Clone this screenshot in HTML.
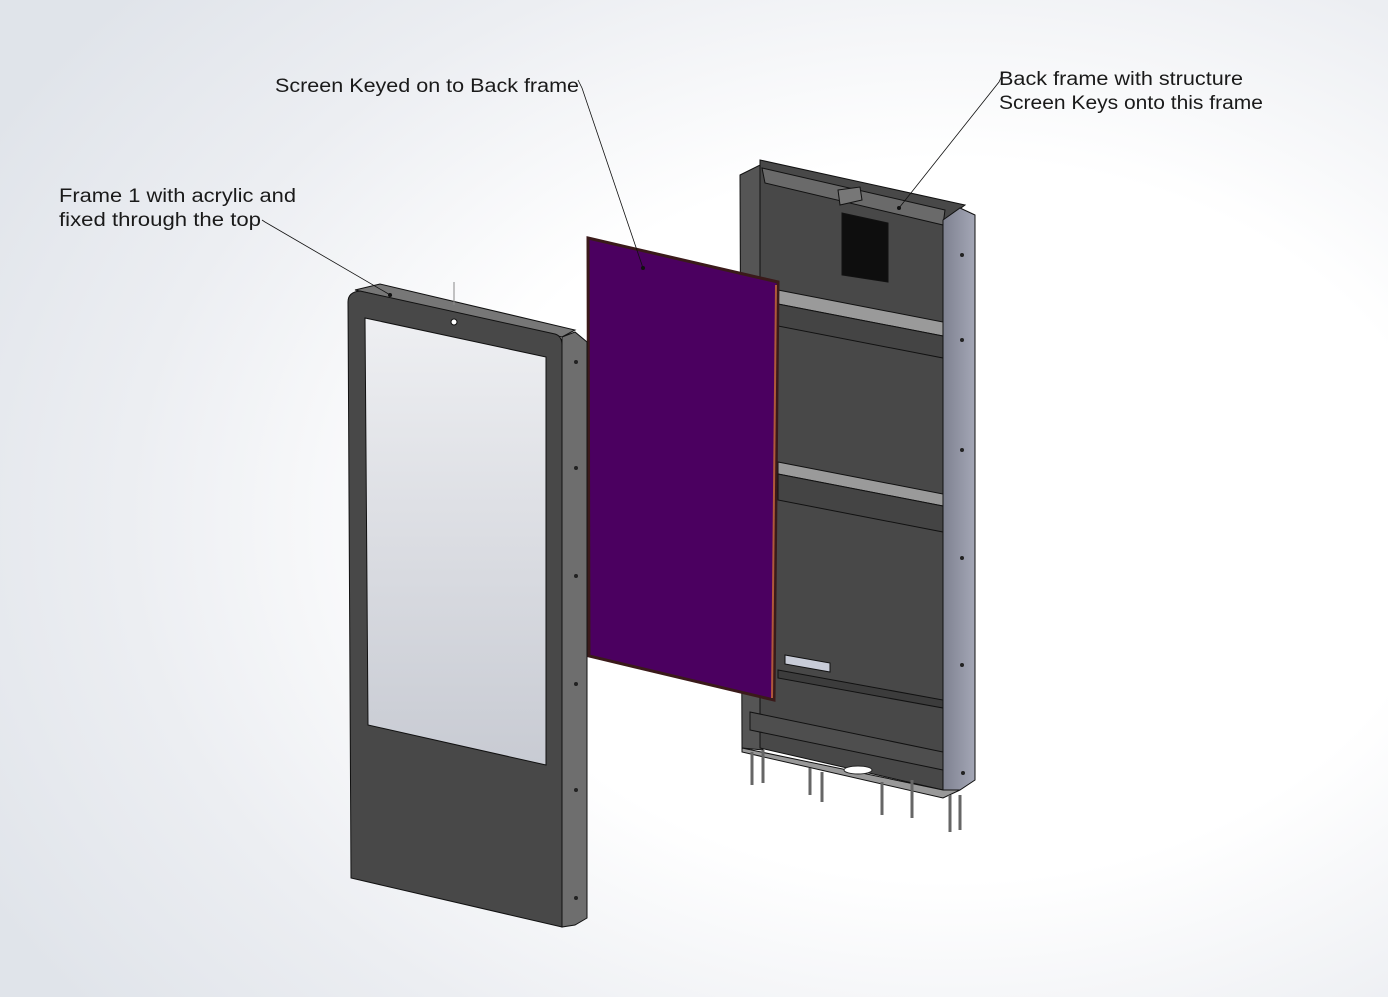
<!DOCTYPE html>
<html><head><meta charset="utf-8"><style>
html,body{margin:0;padding:0;width:1388px;height:997px;overflow:hidden;}
body{background:radial-gradient(ellipse 1100px 800px at 950px 520px,#ffffff 45%,#eceef2 75%,#e0e4ea 100%);}
svg{position:absolute;left:0;top:0;}
text{font-family:"Liberation Sans",sans-serif;font-size:19px;fill:#1a1a1a;}
</style></head><body>
<svg width="1388" height="997" viewBox="0 0 1388 997">
<defs>
<linearGradient id="win" x1="0" y1="0" x2="0" y2="1"><stop offset="0" stop-color="#eeeff2"/><stop offset="1" stop-color="#c8cbd3"/></linearGradient>
<linearGradient id="side" x1="0" y1="0" x2="1" y2="0"><stop offset="0" stop-color="#7e8190"/><stop offset="1" stop-color="#a4a7b6"/></linearGradient>
</defs>
<!-- BACK FRAME -->
<g stroke="#111" stroke-width="1">
<polygon points="740,175 760,165 763,750 742,748" fill="#555"/>
<polygon points="760,160 965,205 945,220 943,790 760,748" fill="#484848"/>
<polygon points="762,168 945,210 943,225 765,183" fill="#6a6a6a"/>
<polygon points="943,220 960,208 975,215 975,780 960,790 943,790" fill="url(#side)"/>
<polygon points="842,213 888,223 888,282 842,275" fill="#0e0e0e"/>
<polygon points="838,190 860,187 862,200 840,205" fill="#777"/>
<polygon points="778,290 943,322 943,336 778,304" fill="#9a9a9a"/>
<polygon points="778,304 943,336 943,358 778,326" fill="#444"/>
<polygon points="778,462 943,494 943,506 778,474" fill="#9a9a9a"/>
<polygon points="778,474 943,506 943,532 778,500" fill="#444"/>
<polygon points="785,655 830,663 830,672 785,664" fill="#c8ccd8"/>
<polygon points="778,670 943,700 943,708 778,678" fill="#3c3c3c"/>
<polygon points="750,712 943,752 943,770 750,730" fill="#4e4e4e"/>
<polygon points="742,748 943,790 960,790 943,798 742,752" fill="#999"/>
</g>
<g stroke="#666" stroke-width="3">
<line x1="752" y1="752" x2="752" y2="785"/><line x1="763" y1="750" x2="763" y2="783"/>
<line x1="810" y1="768" x2="810" y2="795"/><line x1="822" y1="772" x2="822" y2="802"/>
<line x1="882" y1="782" x2="882" y2="815"/><line x1="912" y1="780" x2="912" y2="818"/>
<line x1="950" y1="795" x2="950" y2="832"/><line x1="960" y1="795" x2="960" y2="830"/>
</g>
<ellipse cx="858" cy="770" rx="14" ry="4" fill="#fff" stroke="#222"/>
<g fill="#222"><circle cx="962" cy="255" r="2"/><circle cx="962" cy="340" r="2"/><circle cx="962" cy="450" r="2"/><circle cx="962" cy="558" r="2"/><circle cx="962" cy="665" r="2"/><circle cx="963" cy="773" r="2"/></g>
<!-- SCREEN -->
<polygon points="588,238 778,282 774,700 589,656" fill="#4b0060" stroke="#3a1a1a" stroke-width="3"/>
<line x1="776" y1="285" x2="772" y2="698" stroke="#b0583a" stroke-width="2"/>
<!-- FRONT FRAME -->
<g stroke="#111" stroke-width="1">
<polygon points="562,337 575,332 587,342 587,918 575,925 562,927" fill="#6e6e6e"/>
<polygon points="355,290 380,284 575,330 562,337" fill="#777"/>
<path d="M348,302 Q348,292 360,291 L555,334 Q562,336 562,345 L562,927 L351,878 Z" fill="#484848"/>
<polygon points="365,318 546,357 546,765 368,725" fill="url(#win)"/>
</g>
<line x1="454" y1="282" x2="454" y2="305" stroke="#888"/>
<circle cx="454" cy="322" r="3" fill="#fff" stroke="#111"/>
<g fill="#222"><circle cx="576" cy="362" r="2"/><circle cx="576" cy="468" r="2"/><circle cx="576" cy="576" r="2"/><circle cx="576" cy="684" r="2"/><circle cx="576" cy="790" r="2"/><circle cx="576" cy="898" r="2"/></g>
<!-- LEADERS -->
<g stroke="#111" stroke-width="0.8" fill="none">
<polyline points="578,80 582,88 643,268"/>
<polyline points="262,220 265,222 392,296"/>
<polyline points="1003,73 999,82 899,208"/>
</g>
<circle cx="643" cy="268" r="2" fill="#111"/>
<circle cx="899" cy="208" r="2" fill="#111"/>
<circle cx="390" cy="295" r="2" fill="#111"/>
<text x="275" y="92" textLength="304" lengthAdjust="spacingAndGlyphs">Screen Keyed on to Back frame</text>
<text x="59" y="202" textLength="237" lengthAdjust="spacingAndGlyphs">Frame 1 with acrylic and</text>
<text x="59" y="226" textLength="202" lengthAdjust="spacingAndGlyphs">fixed through the top</text>
<text x="999" y="85" textLength="244" lengthAdjust="spacingAndGlyphs">Back frame with structure</text>
<text x="999" y="109" textLength="264" lengthAdjust="spacingAndGlyphs">Screen Keys onto this frame</text>
</svg>
</body></html>
